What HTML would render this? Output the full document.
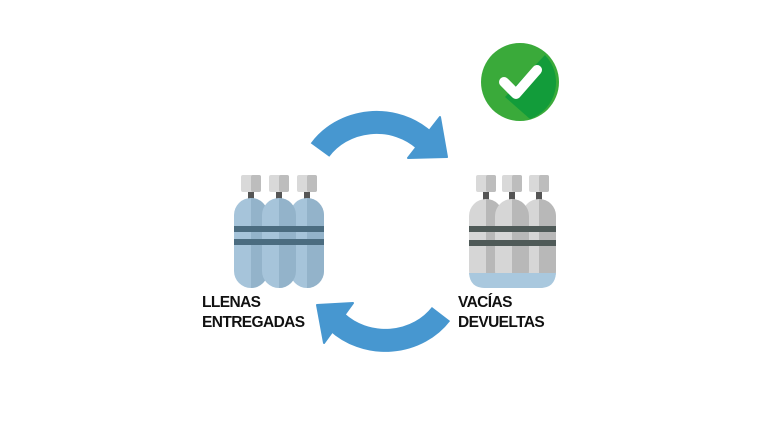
<!DOCTYPE html>
<html><head><style>
html,body{margin:0;padding:0;background:#fff;}
.t{position:absolute;font-family:"Liberation Sans",sans-serif;font-weight:bold;font-size:15.5px;line-height:20px;letter-spacing:-0.6px;color:#111;}
</style></head><body>
<div style="position:relative;width:768px;height:432px;overflow:hidden;">
<svg width="768" height="432" style="position:absolute;left:0;top:0">
<defs>
<g id="tb">
  <rect x="-10" y="0" width="20" height="17" rx="2" fill="#d9d9d9"/>
  <rect x="0" y="0" width="10" height="17" rx="2" fill="#bdbdbd"/>
  <rect x="-3" y="17" width="6" height="9" fill="#555"/>
</g>
</defs>
<circle cx="520" cy="82" r="39" fill="#3aaa3a"/>
<path d="M505 97 L545 55 A39 39 0 0 1 530 119 Z" fill="#129c3a"/>
<path d="M504 82 L516 94 L537 70" stroke="#fff" stroke-width="10" fill="none" stroke-linecap="round" stroke-linejoin="round"/>
<path d="M320 150 A68 62 0 0 1 424 140" stroke="#4797d0" stroke-width="23" fill="none"/>
<polygon points="440,117 447,157 408,158" fill="#4797d0" stroke="#4797d0" stroke-width="2" stroke-linejoin="round"/>
<path d="M441 314 A68 62 0 0 1 337 322" stroke="#4797d0" stroke-width="23" fill="none"/>
<polygon points="317,305 353,303 324,343" fill="#4797d0" stroke="#4797d0" stroke-width="2" stroke-linejoin="round"/>
<g>
 <use href="#tb" x="251" y="175"/><use href="#tb" x="279" y="175"/><use href="#tb" x="307" y="175"/>
 <rect x="234" y="198" width="34" height="90" rx="17" fill="#a6c4da"/><path d="M251 198 A17 17 0 0 1 268 215 V271 A17 17 0 0 1 251 288 Z" fill="#93b3ca"/>
 <rect x="290" y="198" width="34" height="90" rx="17" fill="#a6c4da"/><path d="M307 198 A17 17 0 0 1 324 215 V271 A17 17 0 0 1 307 288 Z" fill="#93b3ca"/>
 <rect x="262" y="198" width="34" height="90" rx="17" fill="#a6c4da"/><path d="M279 198 A17 17 0 0 1 296 215 V271 A17 17 0 0 1 279 288 Z" fill="#93b3ca"/>
 <rect x="234" y="226" width="90" height="6" fill="#4b6c80"/>
 <rect x="234" y="239" width="90" height="6" fill="#4b6c80"/>
</g>
<g>
 <use href="#tb" x="486" y="175"/><use href="#tb" x="512" y="175"/><use href="#tb" x="539" y="175"/>
 <rect x="469" y="199" width="34" height="89" rx="17" fill="#d6d6d6"/><path d="M486 199 A17 17 0 0 1 503 216 V271 A17 17 0 0 1 486 288 Z" fill="#b8b8b8"/>
 <rect x="522" y="199" width="34" height="89" rx="17" fill="#d6d6d6"/><path d="M539 199 A17 17 0 0 1 556 216 V271 A17 17 0 0 1 539 288 Z" fill="#b8b8b8"/>
 <rect x="495" y="199" width="34" height="89" rx="17" fill="#d6d6d6"/><path d="M512 199 A17 17 0 0 1 529 216 V271 A17 17 0 0 1 512 288 Z" fill="#b8b8b8"/>
 <rect x="469" y="226" width="87" height="6" fill="#4f5a58"/>
 <rect x="469" y="240" width="87" height="6" fill="#4f5a58"/>
 <path d="M469 273 H556 Q555 288 540 288 H485 Q470 288 469 273 Z" fill="#a9c8de"/>
</g>
</svg>
<div class="t" style="left:202px;top:293px;">LLENAS<br>ENTREGADAS</div>
<div class="t" style="left:458px;top:293px;">VACÍAS<br>DEVUELTAS</div>
</div>
</body></html>
